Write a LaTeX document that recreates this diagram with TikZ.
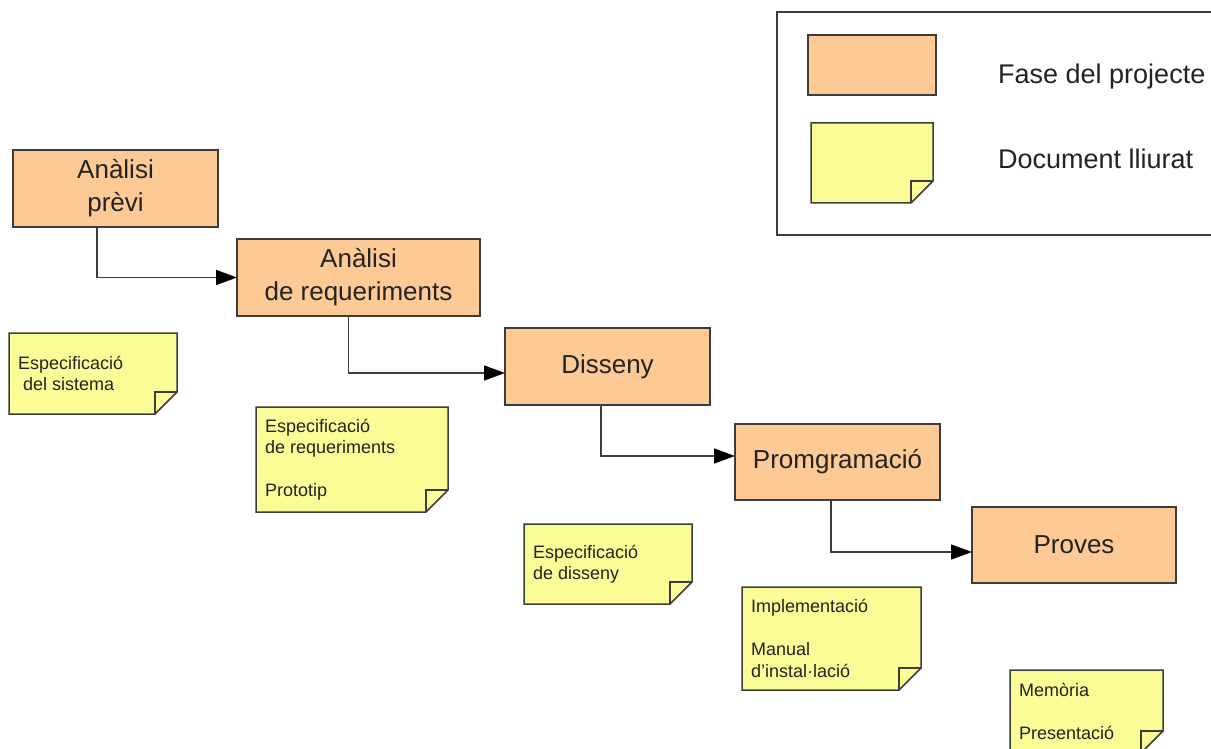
\documentclass[tikz,border=0pt]{standalone}
\usepackage{fontspec}
\setmainfont{Liberation Sans}
\usetikzlibrary{arrows.meta,calc}
\definecolor{phasefill}{RGB}{253,202,150}
\definecolor{notefill}{RGB}{252,252,150}
\definecolor{edgegray}{RGB}{60,60,60}
\definecolor{txt}{RGB}{35,35,35}
\newcommand\docnote[6]{% name, x0, y0, x1, y1, text
  \fill[notefill] (#2,#3) -- (#4,#3) -- (#4,#5-22) -- (#4-22,#5) -- (#2,#5) -- cycle;
  \draw[notebord] (#2,#3) -- (#4,#3) -- (#4,#5-22) -- (#4-22,#5) -- (#2,#5) -- cycle;
  \draw[notebord] (#4,#5-22) -- (#4-22,#5-22) -- (#4-22,#5);
  \node[notetext, anchor=west] (#1) at (#2+9,{(#3+#5)/2}) {#6};
}
\begin{document}
\begin{tikzpicture}[x=1pt,y=-1pt,
  phase/.style={draw=edgegray, line width=1.6pt, fill=phasefill, align=center,
    font=\fontsize{26}{33}\selectfont, text=txt, inner sep=0pt, outer sep=0pt},
  notebord/.style={draw=edgegray, line width=1.5pt, line join=miter},
  notetext/.style={align=left, font=\fontsize{18}{21.5}\selectfont, text=txt, inner sep=0pt},
  legtext/.style={anchor=base west, font=\fontsize{27}{30}\selectfont, text=txt, inner sep=0pt},
  flow/.style={draw=edgegray, line width=1.5pt, -{Triangle[length=21pt,width=15pt,color=black]}}
]
\useasboundingbox (0,0) rectangle (1211,749);
\fill[white] (0,0) rectangle (1211,749);

% legend
\draw[edgegray, line width=1.4pt] (777,12) rectangle (1216,235);
\node[phase, minimum width=128pt, minimum height=60pt] (lphase) at (872,65) {};
\fill[notefill] (811,123) -- (933,123) -- (933,181) -- (911,203) -- (811,203) -- cycle;
\draw[notebord] (811,123) -- (933,123) -- (933,181) -- (911,203) -- (811,203) -- cycle;
\draw[notebord] (933,181) -- (911,181) -- (911,203);
\node[legtext] (lt1) at (998,84) {Fase del projecte};
\node[legtext] (lt2) at (998,169) {Document lliurat};

% phases
\node[phase, minimum width=205pt, minimum height=77pt] (p1) at (115.5,188.5) {Anàlisi\\prèvi};
\node[phase, minimum width=243pt, minimum height=77pt] (p2) at (358.5,277.5) {Anàlisi\\de requeriments};
\node[phase, minimum width=205pt, minimum height=77pt] (p3) at (607.5,366.5) {Disseny};
\node[phase, minimum width=205pt, minimum height=76pt] (p4) at (837.5,462) {Promgramació};
\node[phase, minimum width=204pt, minimum height=76pt] (p5) at (1074,545) {Proves};

% connectors
\draw[flow] ($(p1.south)+(-18.5,0)$) |- (p2.west);
\draw[flow] ($(p2.south)+(-10,0)$) |- ($(p3.west)+(0,6.5)$);
\draw[flow] ($(p3.south)+(-6.5,0)$) |- ($(p4.west)+(0,-6)$);
\draw[flow] ($(p4.south)+(-6.5,0)$) |- ($(p5.west)+(0,7)$);

% documents
\docnote{d1}{9}{333}{177}{414}{Especificació\\\ del sistema}
\docnote{d2}{256}{407}{448}{512}{Especificació\\de requeriments\\[21.5pt]Prototip}
\docnote{d3}{524}{524}{692}{604}{Especificació\\de disseny}
\docnote{d4}{742}{587}{921}{690}{Implementació\\[21.5pt]Manual\\d'instal·lació}
\docnote{d5}{1010}{670}{1163}{753}{Memòria\\[21.5pt]Presentació}
\end{tikzpicture}
\end{document}
